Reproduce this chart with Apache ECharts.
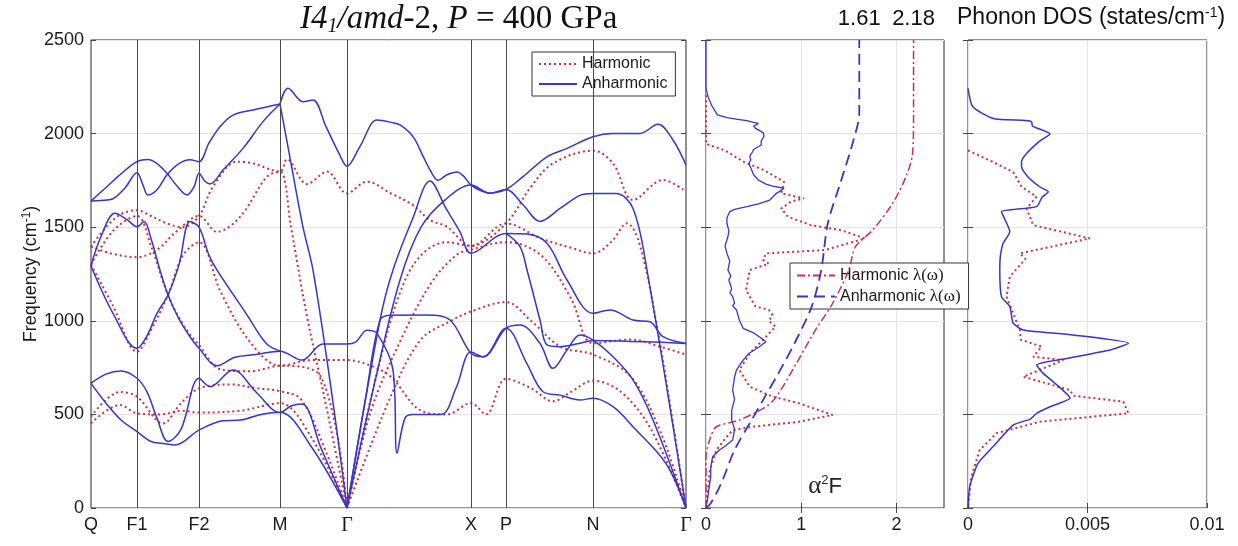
<!DOCTYPE html>
<html>
<head>
<meta charset="utf-8">
<script src="https://cdn.jsdelivr.net/npm/echarts@6/dist/echarts.min.js"></script>
<style>
  html, body { margin: 0; padding: 0; background: #fff; }
  #chart { width: 1238px; height: 546px; }
</style>
</head>
<body>
<div id="chart"></div>
<script>
// High-symmetry path (cumulative k distance) and labels
const kPoints = [0, 46, 108, 189, 256, 380, 415, 502, 595];
const kLabels = ['Q', 'F1', 'F2', 'M', 'Γ', 'X', 'P', 'N', 'Γ'];
const freqTicks = [0, 500, 1000, 1500, 2000, 2500];
const a2fTicks = [0, 1, 2];
const dosTicks = [0, 0.005, 0.01];

// Harmonic phonon branches: [k, frequency cm^-1]
const harmonicBands = [
  [[0,1396],[15,1500],[30,1570],[46,1590],[60,1560],[76,1520],[92,1500],[108,1560],[122,1716],[146,1850],[162,1841],[189,1797],[196,1863],[216,1730],[236,1797],[256,1681],[276,1743],[300,1680],[322,1618],[339,1538],[356,1502],[380,1400],[415,1520],[440,1716],[462,1841],[502,1909],[522,1841],[542,1645],[572,1752],[595,1690]],
  [[0,1396],[20,1360],[46,1340],[66,1380],[86,1480],[108,1560],[126,1475],[149,1555],[176,1770],[189,1797],[200,1500],[215,1050],[235,550],[256,0]],
  [[0,1300],[22,1080],[46,835],[60,950],[77,1138],[92,1350],[108,1420],[130,1150],[160,880],[189,760],[220,790],[256,790],[280,760],[300,700],[330,520],[356,500],[380,560],[395,500],[415,690],[440,640],[462,570],[480,620],[502,680],[530,620],[560,420],[595,0]],
  [[0,1300],[22,1480],[46,1560],[60,1400],[77,1138],[92,980],[108,870],[130,740],[160,730],[189,760],[230,700],[256,0]],
  [[0,488],[29,620],[46,595],[72,452],[90,560],[108,639],[140,660],[165,640],[189,624],[210,580],[235,300],[256,0]],
  [[0,452],[29,550],[46,506],[70,500],[90,520],[108,510],[150,520],[189,560],[220,380],[256,0]],
  [[256,0],[285,700],[309,1150],[330,1350],[356,1420],[380,1400],[415,1520],[450,1440],[480,1390],[502,1360],[520,1420],[536,1521],[548,1420],[565,1000],[580,520],[595,0]],
  [[256,0],[280,520],[310,900],[340,1200],[365,1350],[380,1380],[415,1420],[450,1350],[480,1120],[502,880],[540,900],[570,860],[595,820]],
  [[256,0],[300,600],[330,900],[360,1000],[380,1050],[415,1100],[440,1000],[470,860],[502,820],[540,700],[570,400],[595,0]]
];

// Anharmonic phonon branches: [k, frequency cm^-1]
const anharmonicBands = [
  [[0,1640],[15,1712],[30,1785],[46,1850],[57,1862],[66,1840],[76,1788],[86,1720],[96,1672],[103,1715],[108,1788],[114,1745],[119,1731],[132,1805],[152,1921],[172,2064],[189,2158]],
  [[0,1640],[10,1643],[22,1652],[34,1710],[46,1791],[52,1725],[57,1672],[66,1700],[76,1780],[88,1840],[99,1860],[108,1850],[118,1950],[129,2037],[142,2099],[162,2126],[189,2158]],
  [[189,2158],[197,2242],[212,2170],[222,2179],[235,2037],[248,1894],[256,1826],[269,1932],[286,2072],[300,2060],[309,2046],[322,1984],[332,1880],[339,1806],[347,1751],[356,1780],[366,1795],[373,1770],[380,1725],[390,1695],[399,1682],[415,1702],[432,1770],[456,1876],[476,1921],[502,1983],[522,2001],[549,2001],[567,2050],[582,1966],[595,1832]],
  [[189,2158],[198,1900],[212,1500],[222,1271],[240,640],[256,0]],
  [[0,1293],[10,1450],[24,1574],[36,1540],[46,1503],[53,1530],[60,1440],[69,1270],[77,1138],[88,1010],[99,915],[108,853],[126,760],[144,805],[165,820],[189,838],[211,790],[232,876],[256,876],[265,888],[276,950],[286,933],[302,738],[306,292],[314,480],[322,500],[350,500],[365,640],[380,833],[392,808],[415,960],[429,978],[449,879],[462,746],[476,844],[489,924],[502,897],[522,808],[542,684],[562,470],[595,0]],
  [[0,1293],[22,1040],[46,853],[56,920],[66,1040],[77,1138],[88,1300],[99,1530],[108,1500],[118,1350],[126,1271],[155,1040],[175,880],[189,838]],
  [[0,666],[15,715],[30,732],[46,693],[56,620],[66,480],[77,355],[90,420],[108,693],[119,648],[142,737],[165,620],[189,510],[200,545],[211,555],[230,320],[256,0]],
  [[0,666],[15,560],[30,470],[46,408],[60,355],[72,345],[84,336],[108,416],[132,466],[150,470],[170,500],[189,512],[220,330],[256,0]],
  [[256,0],[275,600],[289,1004],[300,1030],[336,1031],[359,1004],[380,826],[392,808],[415,960],[436,770],[452,621],[469,603],[489,577],[502,586],[522,541],[542,434],[575,237],[595,0]],
  [[256,0],[289,1004],[302,1271],[322,1550],[339,1747],[355,1600],[369,1475],[380,1361],[415,1467],[436,1464],[456,1414],[476,1218],[502,1040],[519,1058],[542,1004],[559,995],[572,915],[595,879]],
  [[256,0],[285,700],[309,1218],[330,1500],[355,1650],[380,1725],[399,1682],[415,1702],[432,1620],[449,1531],[469,1600],[489,1670],[502,1680],[525,1680],[542,1600],[556,1271],[595,0]],
  [[415,1467],[429,1396],[436,1271],[449,1004],[456,871],[469,862],[489,880],[502,895],[540,890],[570,885],[595,879]]
];

// Eliashberg function alpha^2F(omega): [value, frequency]
const a2fHarmonic = [[0,2205],[0,1945],[0.2,1910],[0.4,1848],[0.61,1805],[0.82,1742],[0.79,1681],[1.03,1654],[0.89,1636],[0.79,1600],[0.86,1556],[1.1,1511],[1.42,1484],[1.67,1440],[1.25,1378],[0.63,1360],[0.6,1325],[0.66,1305],[0.46,1271],[0.42,1165],[0.52,1076],[0.66,1058],[0.7,1030],[0.66,1000],[0.73,969],[0.63,915],[0.46,826],[0.35,737],[0.46,648],[0.7,595],[0.98,559],[1.33,497],[0.98,461],[0.49,434],[0.28,416],[0.2,370],[0.11,310],[0.04,202],[0,0]];
const a2fAnharmonic = [[0,2500],[0,2240],[0.02,2200],[0.06,2150],[0.12,2100],[0.22,2085],[0.35,2075],[0.43,2069],[0.5,2060],[0.55,2054],[0.5,2040],[0.52,2028],[0.6,2005],[0.61,1987],[0.58,1960],[0.58,1939],[0.5,1915],[0.49,1903],[0.46,1880],[0.47,1859],[0.45,1840],[0.48,1805],[0.5,1780],[0.55,1752],[0.63,1730],[0.7,1720],[0.82,1708],[0.77,1690],[0.74,1681],[0.67,1645],[0.55,1625],[0.43,1610],[0.3,1595],[0.25,1583],[0.22,1550],[0.22,1521],[0.24,1480],[0.23,1449],[0.2,1400],[0.22,1360],[0.25,1320],[0.23,1271],[0.26,1240],[0.24,1218],[0.27,1170],[0.25,1150],[0.28,1129],[0.3,1095],[0.28,1080],[0.32,1058],[0.35,1004],[0.39,960],[0.5,935],[0.56,915],[0.63,888],[0.56,861],[0.45,825],[0.39,790],[0.35,760],[0.32,737],[0.3,700],[0.28,630],[0.3,580],[0.27,523],[0.27,470],[0.3,420],[0.28,363],[0.2,330],[0.14,310],[0.07,274],[0.05,220],[0.05,167],[0.03,100],[0.02,60],[0,0]];

// Cumulative coupling lambda(omega): [lambda, frequency]
const lambdaHarmonic = [[0,0],[0,274],[0.05,381],[0.11,434],[0.35,470],[0.63,541],[0.74,595],[0.95,773],[1.15,951],[1.33,1093],[1.5,1271],[1.57,1396],[1.75,1484],[1.96,1627],[2.1,1769],[2.17,1895],[2.18,2100],[2.18,2500]];
const lambdaAnharmonic = [[0,0],[0.05,25],[0.16,132],[0.3,310],[0.48,470],[0.62,595],[0.76,719],[0.93,880],[1.11,1076],[1.21,1271],[1.28,1521],[1.41,1734],[1.55,1966],[1.61,2108],[1.61,2500]];

// Phonon density of states: [states/cm^-1, frequency]
const dosHarmonic = [[0,1910],[0.00105,1848],[0.00189,1795],[0.00224,1716],[0.00287,1663],[0.00245,1600],[0.00273,1511],[0.0051,1440],[0.00217,1360],[0.0024,1330],[0.00175,1236],[0.00161,1129],[0.00217,951],[0.0022,900],[0.00308,862],[0.00273,808],[0.00399,790],[0.00231,701],[0.00427,630],[0.0044,600],[0.0065,568],[0.00671,506],[0.00301,461],[0.00119,399],[0.00049,310],[0.00014,167],[0,0]];
const dosAnharmonic = [[0,2242],[0.0002,2143],[0.00105,2081],[0.0024,2070],[0.00266,2063],[0.0027,2040],[0.00343,1998],[0.003,1960],[0.00245,1894],[0.00224,1850],[0.00224,1823],[0.0025,1770],[0.003,1716],[0.00336,1689],[0.0031,1660],[0.00287,1610],[0.0014,1583],[0.00155,1540],[0.00175,1476],[0.00147,1414],[0.00135,1340],[0.00133,1271],[0.0014,1129],[0.00175,1076],[0.00189,987],[0.00231,951],[0.0044,924],[0.00671,880],[0.00594,844],[0.00413,799],[0.00287,764],[0.00315,719],[0.0037,660],[0.00427,587],[0.00343,541],[0.00287,506],[0.0026,475],[0.00189,443],[0.00105,328],[0.00042,239],[0.00007,114],[0,0]];

const BLUE = '#3636c8';
const RED = '#cc3040';
const CRIMSON = '#c8305a';
const SANS = '"Liberation Sans", Arial, Helvetica, sans-serif';
const SERIF = '"Liberation Serif", "Times New Roman", serif';
const FREQ_MAX = 2500;

const chart = echarts.init(document.getElementById('chart'), null, { renderer: 'canvas' });

const dottedRed = { color: RED, width: 2, type: [2, 3], cap: 'butt' };
const solidBlue = { color: BLUE, width: 1.5, type: 'solid' };

const series = [];
harmonicBands.forEach(b => series.push({
  name: 'Harmonic', type: 'line', xAxisIndex: 0, yAxisIndex: 0, data: b,
  smooth: 0.35, symbol: 'none', lineStyle: dottedRed, itemStyle: { color: RED }, z: 3, silent: true
}));
anharmonicBands.forEach(b => series.push({
  name: 'Anharmonic', type: 'line', xAxisIndex: 0, yAxisIndex: 0, data: b,
  smooth: 0.35, symbol: 'none', lineStyle: solidBlue, itemStyle: { color: BLUE }, z: 4, silent: true
}));
// vertical guides at the high-symmetry points
series.push({
  type: 'line', xAxisIndex: 0, yAxisIndex: 0, data: [], silent: true,
  markLine: {
    silent: true, symbol: 'none', label: { show: false },
    lineStyle: { color: '#4a4a4a', width: 1, type: 'solid' },
    data: kPoints.slice(1, -1).map(k => ({ xAxis: k }))
  }
});

// alpha^2F panel
series.push({ name: 'a2fH', type: 'line', xAxisIndex: 1, yAxisIndex: 2, data: a2fHarmonic, symbol: 'none', lineStyle: dottedRed, silent: true, z: 3 });
series.push({ name: 'a2fA', type: 'line', xAxisIndex: 1, yAxisIndex: 2, data: a2fAnharmonic, symbol: 'none', lineStyle: { color: BLUE, width: 1.3 }, silent: true, z: 4 });
series.push({ name: 'Harmonic λ(ω)', type: 'line', xAxisIndex: 1, yAxisIndex: 2, data: lambdaHarmonic, smooth: 0.3, symbol: 'none', lineStyle: { color: CRIMSON, width: 1.5, type: [8, 3, 2, 3] }, itemStyle: { color: CRIMSON }, silent: true, z: 5 });
series.push({ name: 'Anharmonic λ(ω)', type: 'line', xAxisIndex: 1, yAxisIndex: 2, data: lambdaAnharmonic, smooth: 0.3, symbol: 'none', lineStyle: { color: BLUE, width: 1.8, type: [11, 6] }, itemStyle: { color: BLUE }, silent: true, z: 5 });

// DOS panel
series.push({ name: 'dosH', type: 'line', xAxisIndex: 3, yAxisIndex: 4, data: dosHarmonic, symbol: 'none', lineStyle: dottedRed, silent: true, z: 3 });
series.push({ name: 'dosA', type: 'line', xAxisIndex: 3, yAxisIndex: 4, data: dosAnharmonic, smooth: 0.2, symbol: 'none', lineStyle: { color: BLUE, width: 1.5 }, silent: true, z: 4 });

const gridBase = { top: 40, height: 468, show: true, borderColor: '#262626', borderWidth: 1, backgroundColor: '#fff', containLabel: false };
const tickLabel = { color: '#1a1a1a', fontSize: 18, fontFamily: SANS };
const lightSplit = { show: true, lineStyle: { color: '#e4e4e4', width: 1 } };
const inTick = { show: true, inside: true, length: 5, lineStyle: { color: '#444' } };

function yAxisFor(grid, pos, labels, split) {
  return {
    type: 'value', gridIndex: grid, position: pos, min: 0, max: FREQ_MAX, interval: 500,
    axisLine: { show: false }, axisTick: inTick,
    axisLabel: labels ? Object.assign({ margin: 7, formatter: v => String(v) }, tickLabel) : { show: false },
    splitLine: split ? lightSplit : { show: false }
  };
}

const legendBase = {
  orient: 'vertical', itemWidth: 38, itemHeight: 12, itemGap: 4, padding: [4, 8, 4, 6],
  borderColor: '#333', borderWidth: 1, backgroundColor: '#fff', selectedMode: false,
  itemStyle: { opacity: 0 },
  textStyle: { fontSize: 16, fontFamily: SANS, color: '#1a1a1a' }
};

const option = {
  animation: false,
  backgroundColor: '#fff',
  grid: [
    Object.assign({ left: 91, width: 595 }, gridBase),
    Object.assign({ left: 706, width: 238 }, gridBase),
    Object.assign({ left: 968, width: 239 }, gridBase)
  ],
  xAxis: [
    {
      type: 'value', gridIndex: 0, min: 0, max: kPoints[kPoints.length - 1],
      axisLine: { show: false }, axisTick: { show: false }, splitLine: { show: false },
      axisLabel: Object.assign({
        customValues: kPoints, margin: 8,
        formatter: v => {
          const i = kPoints.indexOf(v);
          const s = i >= 0 ? kLabels[i] : '';
          return s === 'Γ' ? '{g|Γ}' : s;
        },
        rich: { g: { fontFamily: SERIF, fontSize: 20, color: '#1a1a1a' } }
      }, tickLabel)
    },
    {
      type: 'value', gridIndex: 1, min: 0, max: 2.5, interval: 1,
      axisLine: { show: false }, axisTick: Object.assign({ customValues: a2fTicks }, inTick),
      axisLabel: Object.assign({ customValues: a2fTicks, margin: 8 }, tickLabel),
      splitLine: lightSplit
    },
    {
      type: 'value', gridIndex: 1, position: 'top', min: 0, max: 2.5, interval: 1,
      axisLine: { show: false }, axisTick: Object.assign({ customValues: [1, 2] }, inTick),
      axisLabel: { show: false }, splitLine: { show: false }
    },
    {
      type: 'value', gridIndex: 2, min: 0, max: 0.01, interval: 0.005,
      axisLine: { show: false }, axisTick: Object.assign({ customValues: dosTicks }, inTick),
      axisLabel: Object.assign({ customValues: dosTicks, margin: 8 }, tickLabel),
      splitLine: lightSplit
    },
    {
      type: 'value', gridIndex: 2, position: 'top', min: 0, max: 0.01, interval: 0.005,
      axisLine: { show: false }, axisTick: Object.assign({ customValues: [0.005] }, inTick),
      axisLabel: { show: false }, splitLine: { show: false }
    }
  ],
  yAxis: [
    Object.assign(yAxisFor(0, 'left', true, true), {
      name: '{a|Frequency (cm}{s|-1}{a|)}', nameLocation: 'middle', nameGap: 50, nameRotate: 90,
      nameTextStyle: { rich: {
        a: { fontFamily: SANS, fontSize: 18, color: '#1a1a1a' },
        s: { fontFamily: SANS, fontSize: 12, color: '#1a1a1a', verticalAlign: 'top', padding: [0, 0, 8, 0] }
      } }
    }),
    yAxisFor(0, 'right', false, false),
    yAxisFor(1, 'left', false, true),
    yAxisFor(1, 'right', false, false),
    yAxisFor(2, 'left', false, true),
    yAxisFor(2, 'right', false, false)
  ],
  legend: [
    Object.assign({ data: ['Harmonic', 'Anharmonic'], left: 532, top: 52 }, legendBase),
    Object.assign({
      data: ['Harmonic λ(ω)', 'Anharmonic λ(ω)'], left: 790, top: 263,
      formatter: name => name.replace('λ(ω)', '{g|λ(ω)}')
    }, legendBase, {
      textStyle: { fontSize: 16, fontFamily: SANS, color: '#1a1a1a',
        rich: { g: { fontFamily: SERIF, fontSize: 17, color: '#1a1a1a' } } }
    })
  ],
  series: series
};

chart.setOption(option);

// Titles and annotations placed from the axes' own scales
const lamA = lambdaAnharmonic[lambdaAnharmonic.length - 1][0];
const lamH = lambdaHarmonic[lambdaHarmonic.length - 1][0];
const pA = chart.convertToPixel({ xAxisIndex: 1, yAxisIndex: 2 }, [lamA, FREQ_MAX]);
const pH = chart.convertToPixel({ xAxisIndex: 1, yAxisIndex: 2 }, [lamH, FREQ_MAX]);
const pAlpha = chart.convertToPixel({ xAxisIndex: 1, yAxisIndex: 2 }, [1.0, 95]);

chart.setOption({
  graphic: [
    {
      type: 'text', x: 300, y: 1, z: 10, silent: true,
      style: {
        text: '{i|I4}{sub|1}{i|/amd}{n|-2, }{i|P}{n| = 400 GPa}',
        rich: {
          i: { fontFamily: SERIF, fontStyle: 'italic', fontSize: 33, fill: '#111' },
          n: { fontFamily: SERIF, fontSize: 33, fill: '#111' },
          sub: { fontFamily: SERIF, fontStyle: 'italic', fontSize: 20, fill: '#111', verticalAlign: 'bottom', padding: [16, 0, 0, 0] }
        }
      }
    },
    { type: 'text', x: pA[0], y: 8, z: 10, silent: true, style: { text: lamA.toFixed(2), fontFamily: SANS, fontSize: 22, fill: '#111', align: 'center' } },
    { type: 'text', x: pH[0], y: 8, z: 10, silent: true, style: { text: lamH.toFixed(2), fontFamily: SANS, fontSize: 22, fill: '#111', align: 'center' } },
    {
      type: 'text', x: 957, y: 6, z: 10, silent: true,
      style: {
        text: '{a|Phonon DOS (states/cm}{s|-1}{a|)}',
        rich: {
          a: { fontFamily: SANS, fontSize: 23, fill: '#111' },
          s: { fontFamily: SANS, fontSize: 14, fill: '#111', verticalAlign: 'top', padding: [0, 0, 10, 0] }
        }
      }
    },
    {
      type: 'text', x: pAlpha[0] + 7, y: pAlpha[1] - 16, z: 10, silent: true,
      style: {
        text: '{g|α}{s|2}{a|F}',
        rich: {
          g: { fontFamily: SERIF, fontSize: 25, fill: '#222' },
          a: { fontFamily: SANS, fontSize: 22, fill: '#222' },
          s: { fontFamily: SANS, fontSize: 13, fill: '#222', verticalAlign: 'top', padding: [0, 0, 10, 0] }
        }
      }
    }
  ]
});
</script>
</body>
</html>
